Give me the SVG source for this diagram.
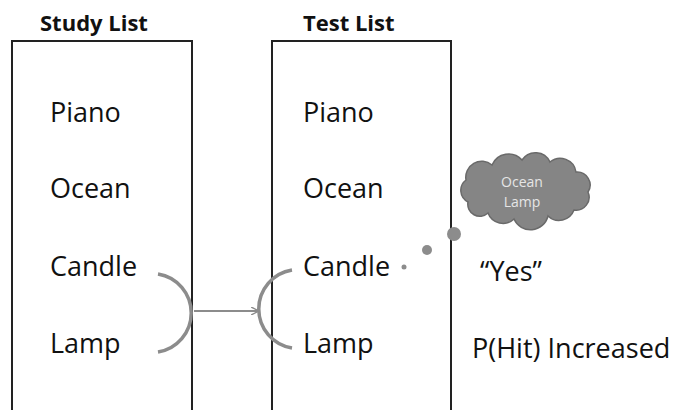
<svg xmlns="http://www.w3.org/2000/svg" width="681" height="410" viewBox="0 0 681 410">
<style>
.box{fill:none;stroke:#222;stroke-width:2}
.h{font-family:"Open Sans","Liberation Sans",sans-serif;font-weight:bold;font-size:22px;fill:#111}
.t{font-family:"Open Sans","Liberation Sans",sans-serif;font-size:27px;fill:#111}
.br{fill:none;stroke:#8c8c8c;stroke-width:3.5}
.dot{fill:#8c8c8c}
</style>
<defs>
<marker id="ah" markerWidth="8" markerHeight="8" refX="7" refY="4" orient="auto" markerUnits="userSpaceOnUse">
<path d="M0,0 L8,4 L0,8" fill="none" stroke="#8c8c8c" stroke-width="1.5"/>
</marker>
</defs>
<g id="study">
<path class="box" d="M12,410 V41 H192 V410"/>
<text class="h" x="40" y="31">Study List</text>
<text class="t" x="50" y="122">Piano</text>
<text class="t" x="50" y="198">Ocean</text>
<text class="t" x="50" y="276">Candle</text>
<text class="t" x="50" y="353">Lamp</text>
</g>
<g id="test">
<path class="box" d="M272,410 V41 H451 V410"/>
<text class="h" x="303" y="31">Test List</text>
<text class="t" x="303" y="122">Piano</text>
<text class="t" x="303" y="198">Ocean</text>
<text class="t" x="303" y="276">Candle</text>
<text class="t" x="303" y="353">Lamp</text>
</g>
<g id="connectors">
<path class="br" d="M158,274 A39.5,39.5 0 0 1 158,352"/>
<path class="br" d="M292,270 A39.5,39.5 0 0 0 292,348"/>
<line x1="194" y1="311" x2="258" y2="311" stroke="#8c8c8c" stroke-width="2" marker-end="url(#ah)"/>
</g>
<g id="thought">
<circle class="dot" cx="404" cy="267" r="2.5"/>
<circle class="dot" cx="427" cy="250" r="5"/>
<circle class="dot" cx="454" cy="234" r="7"/>
<path d="M468,202 A13,13 0 0 1 466,180 A16,16 0 0 1 492,165 A18,18 0 0 1 522,160 A16,16 0 0 1 550,162 A16,16 0 0 1 576,172 A13,13 0 0 1 588,192 A13,13 0 0 1 574,210 A16,16 0 0 1 548,216 A18,18 0 0 1 514,219 A16,16 0 0 1 488,213 A12,12 0 0 1 468,202 Z" fill="#858585" stroke="#6a6a6a" stroke-width="1.5"/>
<text x="522" y="187" text-anchor="middle" font-family="Open Sans,Liberation Sans,sans-serif" font-size="14" fill="#e6e6e6">Ocean</text>
<text x="522" y="207" text-anchor="middle" font-family="Open Sans,Liberation Sans,sans-serif" font-size="14" fill="#e6e6e6">Lamp</text>
</g>
<g id="labels">
<text class="t" x="480" y="281">“Yes”</text>
<text class="t" x="472" y="358">P(Hit) Increased</text>
</g>
</svg>
